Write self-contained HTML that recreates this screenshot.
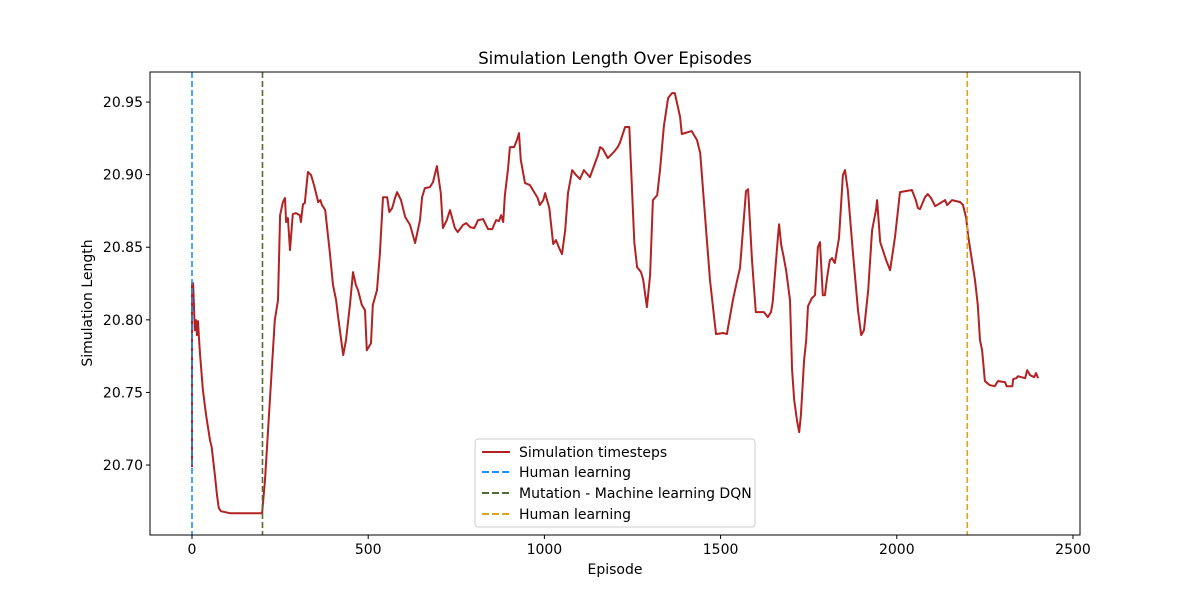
<!DOCTYPE html>
<html><head><meta charset="utf-8"><style>
body{margin:0;background:#fff;}
svg text{font-family:"DejaVu Sans","Liberation Sans",sans-serif;fill:#000;}
</style></head><body>
<svg id="chart" width="1200" height="600" viewBox="0 0 1200 600" xmlns="http://www.w3.org/2000/svg">
<rect width="1200" height="600" fill="#fff"/>
<text x="615" y="64" font-size="16.5" text-anchor="middle">Simulation Length Over Episodes</text>
<g id="plot"></g>
<text x="615" y="574" font-size="14" text-anchor="middle">Episode</text>
<text transform="translate(92,303) rotate(-90)" font-size="14" text-anchor="middle">Simulation Length</text>
<g>
<rect x="475" y="439" width="280" height="88" rx="3" fill="#fff" fill-opacity="0.8" stroke="#ccc"/>
<line x1="482" y1="452" x2="510" y2="452" stroke="#b22222" stroke-width="2"/>
<text x="519" y="457" font-size="14">Simulation timesteps</text>
<line x1="482" y1="472" x2="510" y2="472" stroke="#1e90ff" stroke-width="2" stroke-dasharray="7,3"/>
<text x="519" y="477" font-size="14">Human learning</text>
<line x1="482" y1="493" x2="510" y2="493" stroke="#556b2f" stroke-width="2" stroke-dasharray="7,3"/>
<text x="519" y="498" font-size="14">Mutation - Machine learning DQN</text>
<line x1="482" y1="514" x2="510" y2="514" stroke="#daa520" stroke-width="2" stroke-dasharray="7,3"/>
<text x="519" y="519" font-size="14">Human learning</text>
</g>
</svg>
<script>
const episodes=[0,0,3,6,8,11,14,17,20,23,31,40,51,56,65,71,76,82,107,199,207,221,235,244,250,258,264,267,272,278,286,295,306,309,315,320,329,338,347,358,364,369,378,392,400,409,414,429,437,448,457,465,471,482,491,496,508,513,525,533,542,554,560,568,576,582,593,605,619,633,647,653,661,675,684,695,706,712,723,732,746,754,769,778,789,801,812,826,840,852,863,871,877,883,888,897,902,914,922,928,933,945,959,981,987,997,1002,1014,1025,1033,1042,1050,1059,1067,1079,1090,1101,1112,1129,1152,1158,1166,1180,1197,1208,1214,1229,1241,1255,1263,1274,1280,1291,1300,1308,1320,1328,1339,1351,1362,1370,1385,1390,1418,1433,1442,1459,1470,1487,1507,1518,1535,1547,1555,1572,1578,1589,1600,1623,1634,1643,1648,1663,1666,1672,1678,1686,1697,1703,1709,1717,1723,1728,1737,1743,1748,1759,1768,1776,1782,1790,1796,1802,1810,1816,1824,1836,1847,1853,1861,1875,1890,1899,1907,1919,1930,1941,1944,1953,1970,1981,1995,2009,2043,2054,2060,2066,2080,2088,2097,2109,2137,2143,2157,2180,2188,2197,2202,2222,2230,2236,2242,2250,2264,2278,2287,2307,2312,2328,2330,2339,2344,2364,2370,2378,2390,2395,2401];
const lengths=[20.6986,20.8253,20.8253,20.8067,20.7929,20.7998,20.7895,20.7991,20.7860,20.7757,20.7516,20.7343,20.7171,20.7123,20.6930,20.6792,20.6703,20.6682,20.6668,20.6668,20.6896,20.7447,20.7998,20.8136,20.8721,20.8811,20.8839,20.8673,20.8701,20.8480,20.8728,20.8735,20.8721,20.8673,20.8797,20.8804,20.9018,20.8997,20.8921,20.8811,20.8825,20.8790,20.8756,20.8446,20.8239,20.8136,20.8032,20.7757,20.7860,20.8101,20.8329,20.8239,20.8205,20.8101,20.8067,20.7791,20.7840,20.8101,20.8205,20.8446,20.8845,20.8845,20.8742,20.8770,20.8839,20.8880,20.8825,20.8708,20.8653,20.8529,20.8687,20.8845,20.8907,20.8914,20.8949,20.9059,20.8873,20.8632,20.8687,20.8756,20.8632,20.8604,20.8653,20.8666,20.8639,20.8632,20.8687,20.8694,20.8625,20.8625,20.8687,20.8680,20.8721,20.8673,20.8859,20.9045,20.9190,20.9190,20.9238,20.9286,20.9100,20.8942,20.8928,20.8839,20.8790,20.8825,20.8873,20.8770,20.8522,20.8549,20.8494,20.8453,20.8618,20.8873,20.9031,20.8997,20.8969,20.9031,20.8983,20.9135,20.9190,20.9176,20.9114,20.9155,20.9190,20.9218,20.9328,20.9328,20.8535,20.8363,20.8329,20.8280,20.8088,20.8308,20.8825,20.8859,20.9031,20.9335,20.9528,20.9562,20.9562,20.9397,20.9280,20.9300,20.9238,20.9149,20.8618,20.8274,20.7902,20.7909,20.7902,20.8136,20.8274,20.8356,20.8887,20.8900,20.8411,20.8053,20.8053,20.8019,20.8053,20.8122,20.8577,20.8659,20.8515,20.8446,20.8342,20.8136,20.7653,20.7447,20.7302,20.7226,20.7343,20.7722,20.7860,20.8094,20.8150,20.8170,20.8501,20.8535,20.8170,20.8170,20.8287,20.8411,20.8425,20.8391,20.8563,20.8997,20.9031,20.8894,20.8480,20.8067,20.7895,20.7929,20.8205,20.8618,20.8756,20.8825,20.8535,20.8411,20.8342,20.8570,20.8880,20.8894,20.8825,20.8770,20.8763,20.8845,20.8866,20.8839,20.8783,20.8825,20.8790,20.8825,20.8811,20.8790,20.8701,20.8584,20.8274,20.8101,20.7860,20.7791,20.7578,20.7550,20.7543,20.7578,20.7571,20.7543,20.7543,20.7591,20.7598,20.7612,20.7598,20.7653,20.7619,20.7605,20.7633,20.7598];
const xTicks=[0,500,1000,1500,2000,2500];
const yTicks=[20.70,20.75,20.80,20.85,20.90,20.95];
const markerEpisodes=[0,200,2200];
const markerColors=["#1e90ff","#556b2f","#daa520"];
const markerNames=["human-learning-start","mutation-dqn-start","human-learning-return"];

const L=150,R=1080,T=72,B=535;
const xMin=-119.2,xMax=2519.9,yMin=20.6518,yMax=20.9707;
const sx=v=>L+(v-xMin)/(xMax-xMin)*(R-L);
const sy=v=>B-(v-yMin)/(yMax-yMin)*(B-T);
const NS="http://www.w3.org/2000/svg";
const g=document.getElementById('plot');
function mk(tag,attrs){const e=document.createElementNS(NS,tag);for(const k in attrs)e.setAttribute(k,attrs[k]);g.appendChild(e);return e;}

let d=episodes.map((e,i)=>(i?'L':'M')+sx(e).toFixed(1)+','+sy(lengths[i]).toFixed(1)).join(' ');
const line=mk('path',{d:d,fill:'none',stroke:'#b22222','stroke-width':2,'stroke-linejoin':'round'});



markerEpisodes.forEach((m,i)=>{
  const v=mk('line',{x1:sx(m),x2:sx(m),y1:T,y2:B,stroke:markerColors[i],'stroke-width':1.6,'stroke-dasharray':'6,3'});
  
  
});

const frame=mk('rect',{x:L,y:T,width:R-L,height:B-T,fill:'none',stroke:'#000','stroke-width':1});



xTicks.forEach(t=>{
  const x=sx(t);
  const tk=mk('line',{x1:x,x2:x,y1:B,y2:B+4,stroke:'#000'});
  
  
  const tx=mk('text',{x:x,y:B+19,'font-size':14,'text-anchor':'middle'});
  tx.textContent=t;
  
  
});
yTicks.forEach(t=>{
  const y=sy(t);
  const tk=mk('line',{x1:L-4,x2:L,y1:y,y2:y,stroke:'#000'});
  
  
  const tx=mk('text',{x:L-7,y:y+5,'font-size':14,'text-anchor':'end'});
  tx.textContent=t.toFixed(2);
  
  
});
</script>
</body></html>
